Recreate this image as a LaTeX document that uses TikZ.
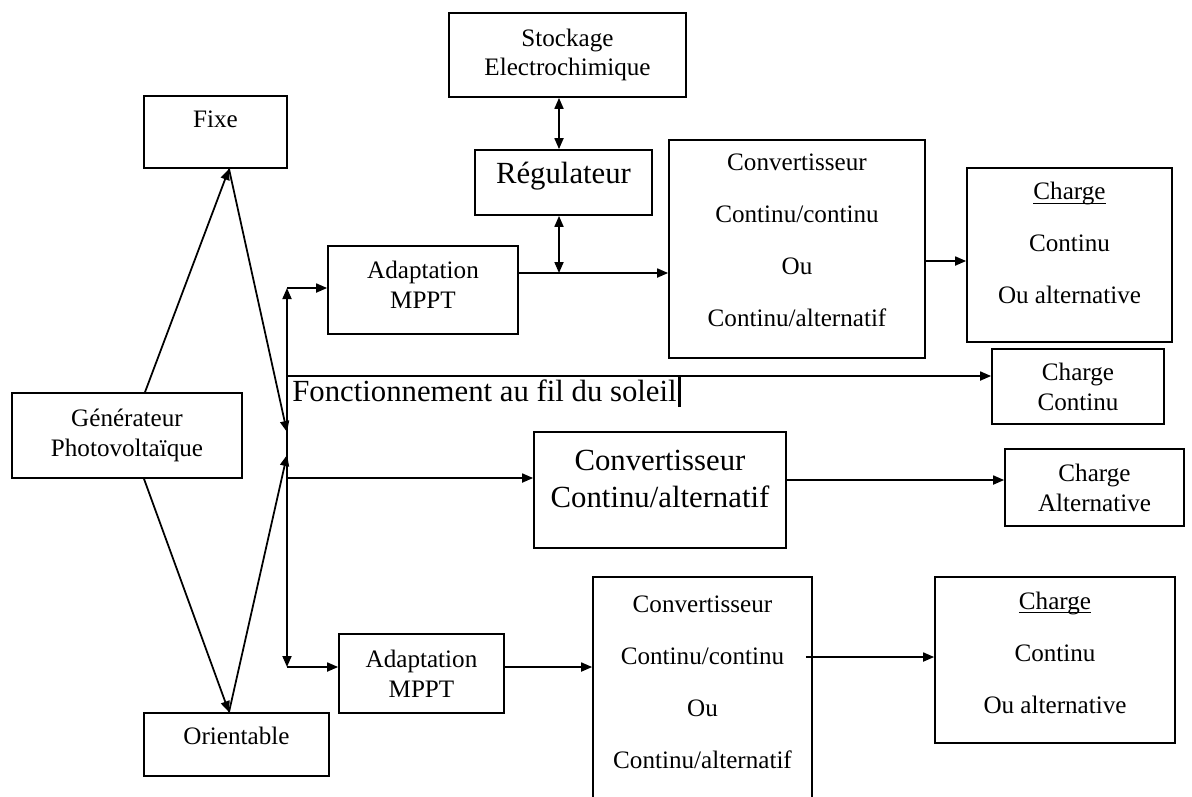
\documentclass[tikz,border=0pt]{standalone}
\usepackage{amsmath}
\usepackage{fontspec}
\setmainfont{Liberation Serif}
\usepackage{tikz}
\usetikzlibrary{arrows.meta, positioning, calc}

\newcommand\txtn{\fontsize{14.3}{17}\selectfont}
\newcommand\txtw{\fontsize{14.3}{29.6}\selectfont}
\newcommand\txtl{\fontsize{17.5}{21}\selectfont}
\newcommand\chargeul{\underline{\smash[b]{Charge}}}

\begin{document}
\begin{tikzpicture}[
  x=0.02cm, y=-0.02cm,
  box/.style={draw, line width=1pt, inner sep=0pt, align=center, font=\txtn},
  widebox/.style={box, font=\txtw},
  arr/.style={-{Triangle[length=2.2mm, width=1.8mm]}, line width=1pt},
  dblarr/.style={{Triangle[length=2.2mm, width=1.8mm]}-{Triangle[length=2.2mm, width=1.8mm]},
                 line width=1pt}
]
\useasboundingbox (0,0) rectangle (1192,796);

% source and mounting
\node[box, minimum width=4.6cm, minimum height=1.7cm] (gen) at (127,435.5)
  {Générateur\\Photovoltaïque};
\node[box, minimum width=2.86cm, minimum height=1.44cm, text depth=0.52cm] (fixe)
  at (215.5,132) {Fixe};
\node[box, minimum width=3.7cm, minimum height=1.26cm, text depth=0.34cm] (orient)
  at (236.5,744.5) {Orientable};

% upper chain with storage
\node[box, minimum width=4.74cm, minimum height=1.68cm] (stock) at (567.5,55)
  {Stockage\\Electrochimique};
\node[box, font=\txtl, minimum width=3.54cm, minimum height=1.3cm, text depth=0.4cm] (reg)
  at (563.5,182.5) {Régulateur};
\node[box, minimum width=3.8cm, minimum height=1.76cm, text depth=0.2cm] (adapt1)
  at (423,290) {Adaptation\\MPPT};
\node[widebox, minimum width=5.12cm, minimum height=4.36cm, text depth=0.36cm] (conv1)
  at (797,249) {Convertisseur\\Continu/continu\\Ou\\Continu/alternatif};
\node[widebox, minimum width=4.1cm, minimum height=3.48cm, text depth=0.48cm] (charge1)
  at (1069.5,255) {\chargeul\\Continu\\Ou alternative};

% direct loads
\node[box, minimum width=3.44cm, minimum height=1.5cm] (chcont) at (1078,386.5)
  {Charge\\Continu};
\node[box, font=\txtl, minimum width=5.04cm, minimum height=2.32cm, text depth=0.46cm] (conv2)
  at (660,490) {Convertisseur\\Continu/alternatif};
\node[box, minimum width=3.58cm, minimum height=1.54cm] (chalt) at (1094.5,487.5)
  {Charge\\Alternative};

% lower chain
\node[box, minimum width=3.3cm, minimum height=1.58cm] (adapt2) at (421.5,673.5)
  {Adaptation\\MPPT};
\node[widebox, minimum width=4.38cm, minimum height=4.66cm, text depth=0.44cm] (conv3)
  at (702.5,693.5) {Convertisseur\\Continu/continu\\Ou\\Continu/alternatif};
\node[widebox, minimum width=4.8cm, minimum height=3.32cm, text depth=0.3cm] (charge3)
  at (1055,660) {\chargeul\\Continu\\Ou alternative};

\node[anchor=base west, inner sep=0pt, font=\txtl] (fil) at (292,401)
  {Fonctionnement au fil du soleil\kern1pt\rule[-0.12cm]{0.06cm}{0.6cm}};

% vertical bus
\coordinate (busTop) at (287,288);
\coordinate (busF) at (287,432);
\coordinate (busMid) at (287,443);
\coordinate (busO) at (287,455);
\coordinate (busFil) at (287,376);
\coordinate (busConv) at (287,478);
\coordinate (busBot) at (287,667);

\draw[arr] ($(gen.north)+(18,0)$) -- ($(fixe.south)+(13.5,0)$);
\draw[arr] ($(fixe.south)+(13.5,0)$) -- (busF);
\draw[arr] ($(gen.south)+(17,0)$) -- ($(orient.north)+(-7.5,0)$);
\draw[arr] ($(orient.north)+(-7.5,0)$) -- (busO);

\draw[arr] (busMid) -- (busTop);
\draw[arr] (busMid) -- (busBot);
\draw[arr] (busTop) -- (busTop -| adapt1.west);
\draw[arr] (busBot) -- (busBot -| adapt2.west);
\draw[arr] (busFil) -- (busFil -| chcont.west);
\draw[arr] (busConv) -- (busConv -| conv2.west);

% storage branch
\coordinate (regJ) at (559,273);
\draw[arr] (regJ -| adapt1.east) -- (regJ -| conv1.west);
\draw[dblarr] (regJ) -- (regJ |- reg.south);
\draw[dblarr] (regJ |- reg.north) -- (regJ |- stock.south);

\draw[arr] ([yshift=-0.24cm]conv1.east) -- ([yshift=-0.24cm]conv1.east -| charge1.west);
\draw[arr] ([yshift=0.2cm]conv2.east) -- ([yshift=0.2cm]conv2.east -| chalt.west);
\draw[arr] (busBot -| adapt2.east) -- (busBot -| conv3.west);
\coordinate (c3out) at ([xshift=-0.14cm, yshift=0.73cm]conv3.east);
\draw[arr] (c3out) -- (c3out -| charge3.west);

\end{tikzpicture}
\end{document}
